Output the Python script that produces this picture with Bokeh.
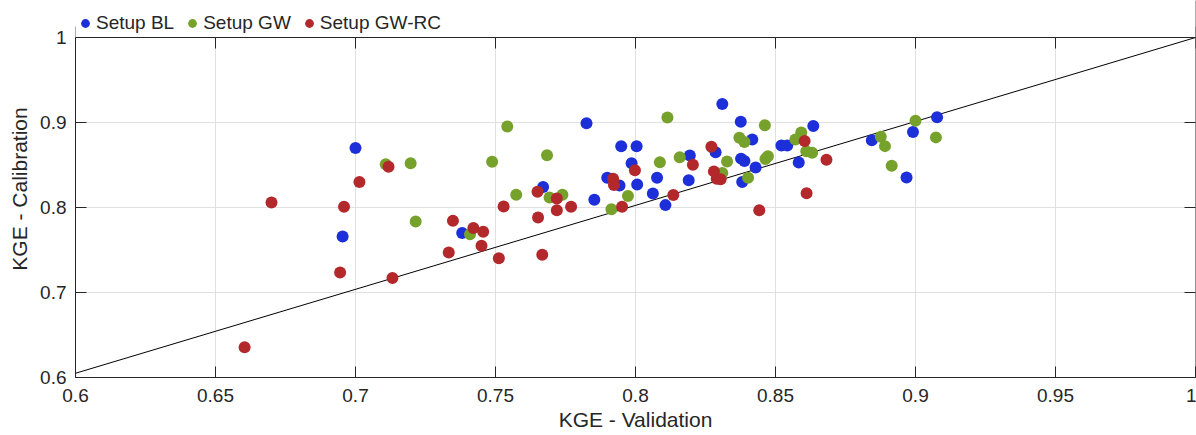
import math
from bokeh.plotting import figure
from bokeh.models import (Range1d, Legend, LegendItem, FixedTicker, Span, BoxAnnotation,
                          NumeralTickFormatter)
from bokeh.embed import file_html
from bokeh.resources import INLINE

# ---------------- data ----------------
bl_x = [0.700, 0.6954, 0.7381, 0.767, 0.7825, 0.7853, 0.7949, 0.8004, 0.7986, 0.7899,
        0.7943, 0.8006, 0.8077, 0.8062, 0.8107, 0.8194, 0.819, 0.831, 0.8286, 0.8376,
        0.8417, 0.8377, 0.8389, 0.8429, 0.8381, 0.8521, 0.8542, 0.8583, 0.8635, 0.8844,
        0.8968, 0.8991, 0.9077]
bl_y = [0.870, 0.766, 0.770, 0.824, 0.899, 0.809, 0.872, 0.872, 0.852, 0.835,
        0.826, 0.827, 0.835, 0.8165, 0.8028, 0.8612, 0.832, 0.9218, 0.865, 0.9008,
        0.880, 0.8575, 0.8548, 0.847, 0.830, 0.873, 0.873, 0.853, 0.896, 0.879,
        0.8353, 0.8889, 0.9062]

gw_x = [0.7108, 0.7197, 0.7215, 0.7409, 0.7488, 0.7542, 0.7574, 0.7684, 0.7693, 0.7739,
        0.7914, 0.7973, 0.8087, 0.8114, 0.8158, 0.8327, 0.831, 0.8371, 0.8389, 0.8402,
        0.8462, 0.8464, 0.8473, 0.8571, 0.8592, 0.861, 0.8631, 0.8876, 0.8891, 0.8915,
        0.900, 0.9073]
gw_y = [0.851, 0.852, 0.7835, 0.7686, 0.8537, 0.8953, 0.815, 0.8616, 0.8118, 0.815,
        0.798, 0.8135, 0.8532, 0.906, 0.8591, 0.854, 0.8405, 0.8821, 0.877, 0.835,
        0.8968, 0.8571, 0.8603, 0.880, 0.8881, 0.8663, 0.8643, 0.8833, 0.8722, 0.8492,
        0.902, 0.8825]

rc_x = [0.6604, 0.670, 0.6945, 0.6959, 0.7014, 0.7118, 0.7132, 0.7333, 0.7348, 0.7421,
        0.7456, 0.745, 0.7512, 0.7529, 0.765, 0.7652, 0.7667, 0.7719, 0.7719, 0.777,
        0.792, 0.7923, 0.7952, 0.7998, 0.8135, 0.8205, 0.8271, 0.828, 0.829, 0.8304,
        0.8442, 0.8604, 0.8682, 0.8611]
rc_y = [0.6357, 0.806, 0.7235, 0.8008, 0.830, 0.848, 0.717, 0.747, 0.7843, 0.776,
        0.7714, 0.755, 0.7404, 0.8012, 0.8184, 0.7882, 0.7443, 0.8106, 0.7969, 0.8008,
        0.8337, 0.8266, 0.8008, 0.8437, 0.8147, 0.8504, 0.8714, 0.8425, 0.8337, 0.8333,
        0.7968, 0.8782, 0.8563, 0.8167]

ref_x = [0.6, 1.0]
ref_y = [0.605, 1.0]

x_ticks = [0.6, 0.65, 0.7, 0.75, 0.8, 0.85, 0.9, 0.95, 1.0]
y_ticks = [0.6, 0.7, 0.8, 0.9, 1.0]

series_labels = ["Setup BL", "Setup GW", "Setup GW-RC"]
series_colors = ["#1c2fd8", "#76a22c", "#b3282b"]

FONT = "Liberation Sans"
TXT = "#262626"

# geometry: the plot box is 340 px tall; 37 px strip above it holds the legend
BOX_PX = 340
STRIP_PX = 37
y_lo, y_hi = y_ticks[0], y_ticks[-1]
y_end = y_hi + STRIP_PX * (y_hi - y_lo) / BOX_PX

p = figure(width=1196, height=435, output_backend="svg", toolbar_location=None,
           title=None,
           x_range=Range1d(x_ticks[0], x_ticks[-1]), y_range=Range1d(y_lo, y_end),
           min_border_left=75, min_border_right=1, min_border_top=0, min_border_bottom=58,
           x_axis_label="KGE - Validation", y_axis_label="KGE - Calibration")
p.outline_line_color = None
p.background_fill_color = "white"

for ax in (p.xaxis[0], p.yaxis[0]):
    ax.major_tick_in = 11
    ax.major_tick_out = 0
    ax.minor_tick_line_color = None
    ax.axis_line_color = TXT
    ax.major_tick_line_color = TXT
    ax.major_label_text_font = FONT
    ax.major_label_text_font_size = "19px"
    ax.major_label_text_color = TXT
    ax.axis_label_text_font = FONT
    ax.axis_label_text_font_size = "21px"
    ax.axis_label_text_font_style = "normal"
    ax.axis_label_text_color = TXT
    ax.formatter = NumeralTickFormatter(format="0.[00]")

p.xaxis[0].ticker = FixedTicker(ticks=x_ticks)
p.yaxis[0].ticker = FixedTicker(ticks=y_ticks)
p.yaxis[0].bounds = (y_lo, y_hi)
p.xaxis[0].major_label_standoff = 11
p.xaxis[0].axis_label_standoff = 3
p.yaxis[0].major_label_standoff = 9
p.yaxis[0].axis_label_standoff = 6

p.xgrid.ticker = FixedTicker(ticks=x_ticks)
p.ygrid.ticker = FixedTicker(ticks=y_ticks)
p.grid.grid_line_color = "#e0e0e0"

# ticks on the top and right edges of the box
top_y = [y_hi] * len(x_ticks)
right_x = [x_ticks[-1]] * len(y_ticks)
p.scatter(x_ticks, top_y, marker="dash", angle=math.pi / 2, size=22,
          line_color=TXT, line_width=1)
p.scatter(right_x, y_ticks, marker="dash", size=22, line_color=TXT, line_width=1)

p.line(ref_x, ref_y, line_color="black", line_width=1)

renderers = []
for xs, ys, col in ((bl_x, bl_y, series_colors[0]),
                    (gw_x, gw_y, series_colors[1]),
                    (rc_x, rc_y, series_colors[2])):
    r = p.scatter(xs, ys, size=12, fill_color=col, line_color=None)
    renderers.append(r)

# right edge of the box, then white strip above the box, then the top edge
p.add_layout(Span(location=x_ticks[-1], dimension="height", line_color=TXT, line_width=1))
p.add_layout(BoxAnnotation(bottom=y_hi, fill_color="white", fill_alpha=1.0,
                           line_color=None, line_alpha=0))
p.add_layout(Span(location=y_hi, dimension="width", line_color=TXT, line_width=1))

legend = Legend(items=[LegendItem(label=series_labels[i], renderers=[renderers[i]])
                       for i in range(3)],
                orientation="horizontal", location=(-1, 343), margin=0, padding=0,
                spacing=7, glyph_width=22, glyph_height=22, label_standoff=0,
                label_text_font=FONT, label_text_font_size="19px", label_text_color=TXT,
                background_fill_alpha=0, border_line_alpha=0)
p.add_layout(legend)

open("out.html", "w").write(file_html(p, INLINE))
